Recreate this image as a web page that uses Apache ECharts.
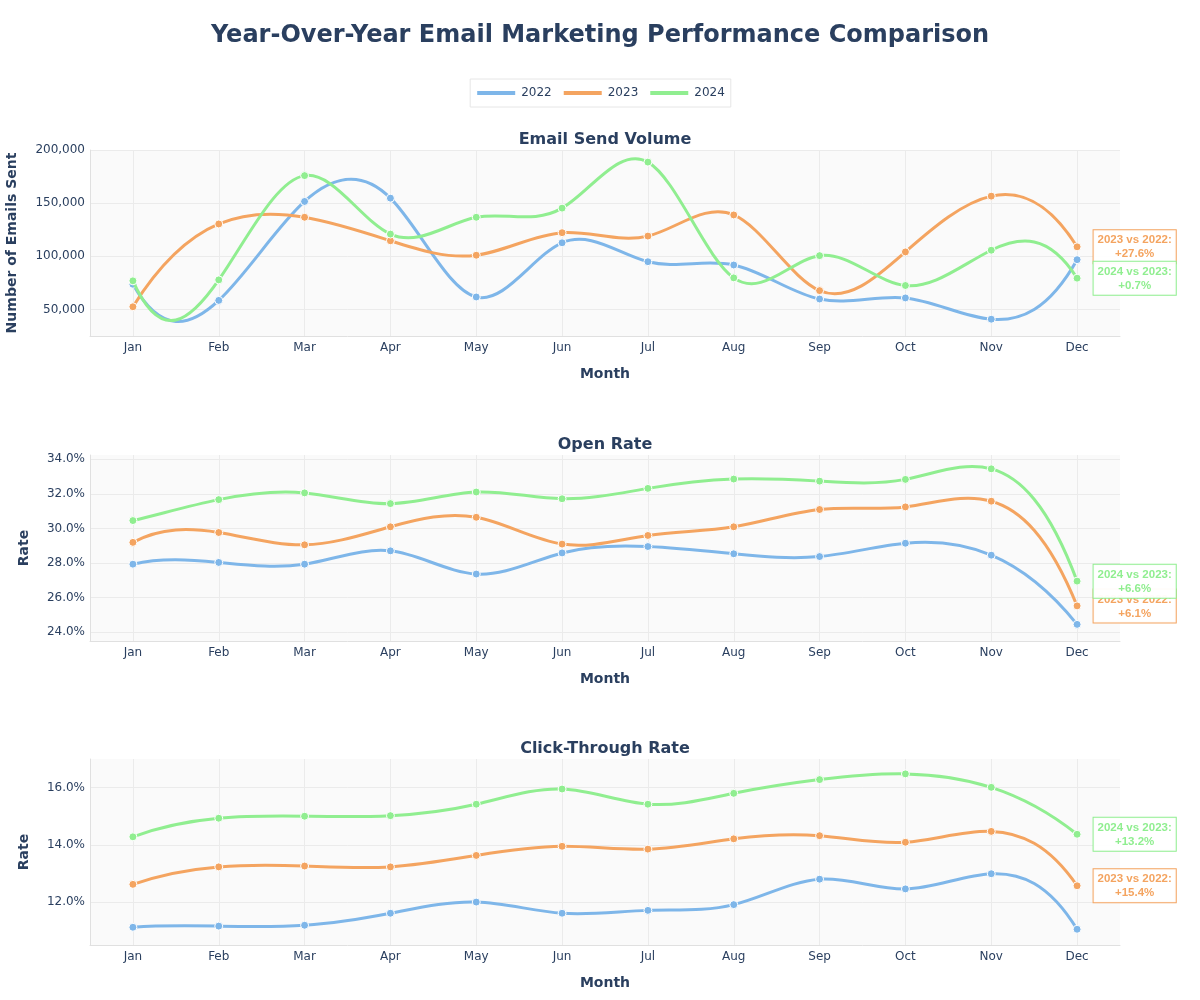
<!DOCTYPE html>
<html>
<head>
<meta charset="utf-8">
<script src="https://cdn.jsdelivr.net/npm/echarts@6/dist/echarts.min.js"></script>
<style>
html,body{margin:0;padding:0;background:#fff;}
#chart{width:1200px;height:1000px;}
</style>
</head>
<body>
<div id="chart"></div>
<script>
// ---- data ----
const months = ['Jan','Feb','Mar','Apr','May','Jun','Jul','Aug','Sep','Oct','Nov','Dec'];
const years = ['2022','2023','2024'];

const volume2022 = [73700, 58500, 151600, 154700, 61700, 112700, 94900, 91800, 59800, 60800, 40800, 96800];
const volume2023 = [52500, 130400, 136700, 114600, 101000, 122200, 119000, 138900, 67700, 104100, 156600, 108900];
const volume2024 = [76900, 77800, 175900, 120900, 136700, 145300, 188600, 79700, 100600, 72500, 105700, 79400];

const open2022 = [27.94, 28.04, 27.94, 28.71, 27.37, 28.59, 28.96, 28.54, 28.38, 29.15, 28.46, 24.46];
const open2023 = [29.20, 29.77, 29.06, 30.10, 30.65, 29.10, 29.60, 30.10, 31.10, 31.25, 31.58, 25.53];
const open2024 = [30.46, 31.67, 32.06, 31.44, 32.11, 31.72, 32.32, 32.86, 32.74, 32.84, 33.45, 26.96];

const ctr2022 = [11.12, 11.16, 11.19, 11.61, 12.00, 11.61, 11.71, 11.91, 12.80, 12.46, 12.99, 11.05];
const ctr2023 = [12.62, 13.23, 13.26, 13.23, 13.63, 13.95, 13.85, 14.21, 14.32, 14.09, 14.47, 12.57];
const ctr2024 = [14.28, 14.93, 15.00, 15.02, 15.42, 15.95, 15.42, 15.80, 16.28, 16.48, 16.01, 14.37];

const panelTitles = ['Email Send Volume', 'Open Rate', 'Click-Through Rate'];
const yTitles = ['Number of Emails Sent', 'Rate', 'Rate'];
const annLabels = ['2023 vs 2022:', '2024 vs 2023:'];
const annVolume = ['+27.6%', '+0.7%'];
const annOpen = ['+6.1%', '+6.6%'];
const annCtr = ['+15.4%', '+13.2%'];

// ---- styling ----
const colors = ['#7eb6e9', '#f4a460', '#90ee90'];
const textColor = '#2a3f5f';
const gridColor = '#ebebeb';
const lineAxisColor = '#e0e0e0';
const font = 'DejaVu Sans';
const T = 'transparent';

const gridTops = [150, 455, 759];
const gridH = 186;

const chart = echarts.init(document.getElementById('chart'), null, {renderer: 'canvas'});

function xAxisFor(i) {
  return {
    type: 'value', gridIndex: i, min: -0.5, max: 11.5, interval: 0.5,
    name: 'Month', nameLocation: 'middle', nameGap: 31,
    nameTextStyle: {fontFamily: font, fontWeight: 'bold', fontSize: 14, color: textColor},
    axisLine: {show: true, onZero: false, lineStyle: {color: lineAxisColor, width: 1}},
    axisTick: {show: false},
    axisLabel: {
      margin: 6, fontFamily: font, fontSize: 12, color: textColor,
      formatter: v => (Math.abs(v - Math.round(v)) < 1e-6 && v >= 0 && v <= 11) ? months[Math.round(v)] : ''
    },
    splitLine: {show: true, lineStyle: {color: [T, gridColor], width: 1}}
  };
}

function yAxisFor(i, cfg) {
  return Object.assign({
    type: 'value', gridIndex: i,
    name: yTitles[i], nameLocation: 'middle',
    nameTextStyle: {fontFamily: font, fontWeight: 'bold', fontSize: 14, color: textColor},
    axisLine: {show: true, onZero: false, lineStyle: {color: lineAxisColor, width: 1}},
    axisTick: {show: false},
  }, cfg);
}

const yAxes = [
  yAxisFor(0, {
    min: 25000, max: 200000, interval: 25000, nameGap: 71,
    axisLabel: {margin: 5, fontFamily: font, fontSize: 12, color: textColor,
      formatter: v => (Math.round(v) % 50000 === 0) ? Math.round(v).toLocaleString('en-US') : ''},
    splitLine: {show: true, lineStyle: {color: [T, gridColor]}}
  }),
  yAxisFor(1, {
    min: 23.5, max: 34.25, interval: 0.25, nameGap: 59,
    axisLabel: {margin: 5, fontFamily: font, fontSize: 12, color: textColor,
      formatter: v => (Math.abs(v / 2 - Math.round(v / 2)) < 1e-6) ? v.toFixed(1) + '%' : ''},
    splitLine: {show: true, lineStyle: {color: [T, T, gridColor, T, T, T, T, T]}}
  }),
  yAxisFor(2, {
    min: 10.5, max: 17, interval: 0.5, nameGap: 59,
    axisLabel: {margin: 5, fontFamily: font, fontSize: 12, color: textColor,
      formatter: v => (Math.abs(v / 2 - Math.round(v / 2)) < 1e-6) ? v.toFixed(1) + '%' : ''},
    splitLine: {show: true, lineStyle: {color: [T, T, T, gridColor]}}
  })
];

function annLabel(color, head, val) {
  return {
    show: true, position: 'right', distance: 12,
    formatter: '{a|' + head + '}\n{a|' + val + '}',
    backgroundColor: 'rgba(255,255,255,0.95)',
    borderColor: color, borderWidth: 1,
    padding: [3, 4, 2, 4],
    rich: {a: {fontFamily: 'Liberation Sans', fontWeight: 'bold', fontSize: 11.5, color: color, lineHeight: 14, align: 'center'}}
  };
}

// Second derivatives of a not-a-knot cubic spline over unit-spaced x
function splineM(y) {
  const n = y.length;
  const A = [], b = [];
  for (let r = 0; r < n; r++) { A.push(new Array(n).fill(0)); b.push(0); }
  A[0][0] = 1; A[0][1] = -2; A[0][2] = 1;
  for (let i = 1; i < n - 1; i++) {
    A[i][i - 1] = 1; A[i][i] = 4; A[i][i + 1] = 1;
    b[i] = 6 * (y[i + 1] - 2 * y[i] + y[i - 1]);
  }
  A[n - 1][n - 3] = 1; A[n - 1][n - 2] = -2; A[n - 1][n - 1] = 1;
  // Gaussian elimination with partial pivoting
  for (let c = 0; c < n; c++) {
    let p = c;
    for (let r = c + 1; r < n; r++) if (Math.abs(A[r][c]) > Math.abs(A[p][c])) p = r;
    [A[c], A[p]] = [A[p], A[c]]; [b[c], b[p]] = [b[p], b[c]];
    for (let r = c + 1; r < n; r++) {
      const f = A[r][c] / A[c][c];
      if (!f) continue;
      for (let k = c; k < n; k++) A[r][k] -= f * A[c][k];
      b[r] -= f * b[c];
    }
  }
  const M = new Array(n).fill(0);
  for (let r = n - 1; r >= 0; r--) {
    let s = b[r];
    for (let k = r + 1; k < n; k++) s -= A[r][k] * M[k];
    M[r] = s / A[r][r];
  }
  return M;
}

const series = [];
const panels = [
  [volume2022, volume2023, volume2024, annVolume],
  [open2022, open2023, open2024, annOpen],
  [ctr2022, ctr2023, ctr2024, annCtr]
];
panels.forEach((p, gi) => {
  [0, 1, 2].forEach(k => {
    const vals = p[k];
    const pairs = vals.map((v, i) => [i, v]);
    const M = splineM(vals);
    // smooth curve through the points, each piece converted to pixels by the axes
    series.push({
      type: 'custom', xAxisIndex: gi, yAxisIndex: gi, data: pairs, silent: true,
      z: 2 + 2 * k,
      renderItem: (params, api) => {
        if (params.dataIndex !== 0) return null;
        let d = '';
        for (let i = 0; i < vals.length - 1; i++) {
          const y0 = vals[i], y1 = vals[i + 1];
          const s0 = (y1 - y0) - (2 * M[i] + M[i + 1]) / 6;
          const s1 = (y1 - y0) + (M[i] + 2 * M[i + 1]) / 6;
          const P0 = api.coord([i, y0]);
          const C1 = api.coord([i + 1 / 3, y0 + s0 / 3]);
          const C2 = api.coord([i + 2 / 3, y1 - s1 / 3]);
          const P1 = api.coord([i + 1, y1]);
          if (i === 0) d += 'M' + P0[0] + ' ' + P0[1];
          d += 'C' + C1[0] + ' ' + C1[1] + ' ' + C2[0] + ' ' + C2[1] + ' ' + P1[0] + ' ' + P1[1];
        }
        return {
          type: 'path',
          shape: {pathData: d},
          style: {fill: null, stroke: colors[k], lineWidth: 3, lineJoin: 'round'}
        };
      }
    });
    const data = pairs.map((d, i) => {
      if (i === vals.length - 1 && k > 0) {
        return {value: d, label: annLabel(colors[k], annLabels[k - 1], p[3][k - 1])};
      }
      return d;
    });
    series.push({
      name: years[k], type: 'line', xAxisIndex: gi, yAxisIndex: gi,
      data: data, symbol: 'circle', symbolSize: 8,
      lineStyle: {color: colors[k], width: 0, opacity: 0},
      itemStyle: {color: colors[k], borderColor: '#fff', borderWidth: 1},
      label: {show: false},
      emphasis: {disabled: true},
      z: 3 + 2 * k
    });
  });
});

const option = {
  backgroundColor: '#fff',
  animation: false,
  title: [
    {text: 'Year-Over-Year Email Marketing Performance Comparison', left: 'center', top: 24, padding: 0,
      textStyle: {fontFamily: font, fontWeight: 'bold', fontSize: 24, color: textColor}},
    ...panelTitles.map((t, i) => ({text: t, left: 605, textAlign: 'center', top: gridTops[i] - 18, padding: 0,
      textStyle: {fontFamily: font, fontWeight: 'bold', fontSize: 16, color: textColor}}))
  ],
  legend: {
    data: years, left: 'center', top: 79,
    icon: 'rect', itemWidth: 40, itemHeight: 6, itemGap: 10,
    borderColor: '#e6e6e6', borderWidth: 1, padding: [8, 6, 8, 5],
    textStyle: {fontFamily: font, fontSize: 12, color: textColor}
  },
  grid: gridTops.map(t => ({left: 90, right: 80, top: t, height: gridH, backgroundColor: '#fafafa', show: true, borderWidth: 0,
    containLabel: false, outerBoundsMode: 'none'})),
  xAxis: [0, 1, 2].map(xAxisFor),
  yAxis: yAxes,
  series: series
};
chart.setOption(option);
</script>
</body>
</html>
